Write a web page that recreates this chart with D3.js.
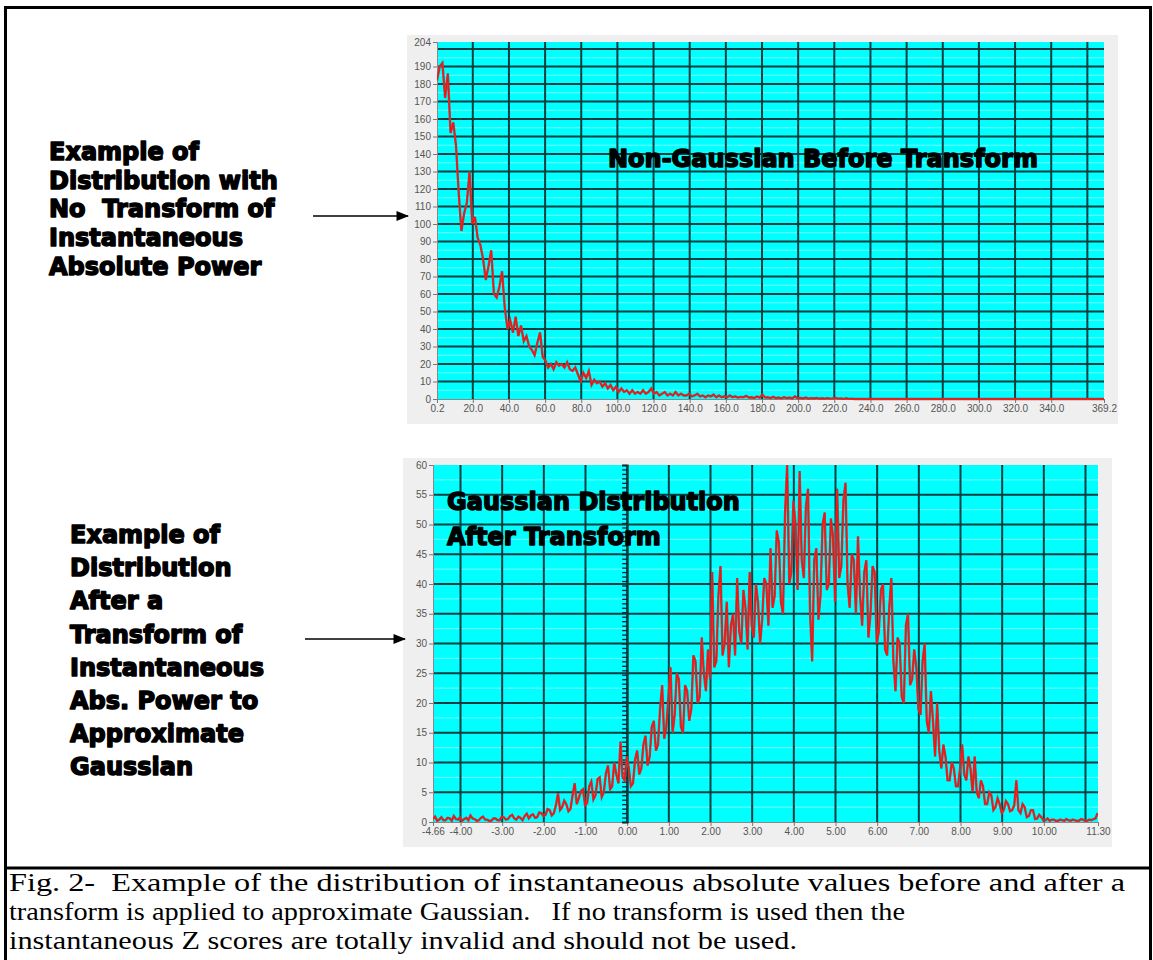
<!DOCTYPE html>
<html>
<head>
<meta charset="utf-8">
<script src="https://cdn.jsdelivr.net/npm/d3@7"></script>
<style>
  body { margin: 0; background: #fff; }
  svg { display: block; }
  text { white-space: pre; }
</style>
</head>
<body>
<div id="fig"></div>
<script>
// ---- data ----
// top histogram: counts of instantaneous absolute power, bins start at 0.2, width 1.5
var topStart = 0.2, topStep = 1.5;
var topCounts = [182, 190, 192, 172, 186, 152, 158, 145, 118, 96,
  106, 112, 130, 100, 104, 92, 88, 80, 68, 76,
  85, 60, 58, 64, 73, 52, 40, 45, 38, 47,
  36, 42, 33, 36, 30, 28, 25, 32, 38, 24,
  22, 18, 20, 17, 21, 19, 20, 18, 21, 17,
  16, 18, 14, 10, 15, 12, 16, 8, 11, 9,
  10, 7, 9, 6, 8, 5, 7, 4, 6, 4,
  5, 3, 5, 3, 4, 3, 5, 3, 4, 6,
  3, 4, 2, 3, 4, 2, 3, 2, 4, 2,
  3, 2, 2, 3, 1.5, 2, 3, 1.5, 2, 1,
  2, 1.5, 2.5, 1, 2, 1, 1.5, 1, 2, 1,
  1.5, 0.8, 1.2, 1, 1.8, 0.8, 1, 0.6, 1.4, 0.8,
  2.5, 0.8, 1, 0.5, 1.2, 0.5, 0.8, 0.4, 1, 0.5,
  0.8, 0.3, 1.5, 0.4, 0.6, 0.3, 0.8, 0.2, 0.5, 0.3,
  0.6, 0.2, 0.4, 0.2, 0.5, 0.2, 0.3, 0.6, 0.2, 0.3,
  0.1, 0.4, 0.1, 0.2, 0];
var topXTicks = [0.2, 20, 40, 60, 80, 100, 120, 140, 160, 180, 200, 220, 240, 260, 280, 300, 320, 340, 369.2];
var topXGrid = [20, 40, 60, 80, 100, 120, 140, 160, 180, 200, 220, 240, 260, 280, 300, 320, 340, 360];
var topYTicks = [0, 10, 20, 30, 40, 50, 60, 70, 80, 90, 100, 110, 120, 130, 140, 150, 160, 170, 180, 190, 204];
var topYGrid = [10, 20, 30, 40, 50, 60, 70, 80, 90, 100, 110, 120, 130, 140, 150, 160, 170, 180, 190, 200];

// bottom histogram: after transform, bins start at -4.66, width 0.05
var botStart = -4.66, botStep = 0.05;
var botCounts = [
  0.5, 0.9, 0.2, 0.4, 0.8, 0.3, 0.3, 0.7, 0.6, 0.2, 1.0, 0.5, 0.4, 0.8, 0.2, 0.5, 0.7, 0.3, 1.1, 0.6,
  0.5, 0.2, 0.3, 0.7, 0.9, 0.4, 0.4, 0.2, 0.2, 0.6, 0.6, 0.3, 0.3, 0.9, 0.8, 0.4, 0.5, 1.0, 1.2, 0.6,
  0.4, 0.9, 0.7, 0.3, 1.0, 1.4, 0.6, 1.1, 1.3, 0.7, 0.8, 1.6, 1.5, 1.0, 1.2, 2.2, 2.0, 1.1, 1.5, 2.8,
  4.8, 2.0, 2.5, 3.6, 3.0, 1.8, 2.2, 4.5, 6.5, 3.0, 4.0, 5.2, 5.5, 2.8, 3.2, 6.0, 6.8, 3.8, 4.5, 7.2,
  7.5, 4.2, 5.0, 8.2, 9.5, 5.5, 6.0, 10.0, 8.0, 6.5, 13.5, 7.5, 7.0, 11.0, 9.0, 6.0, 6.5, 10.5, 12.0, 8.0,
  9.0, 13.0, 14.5, 9.5, 11.0, 16.0, 17.0, 12.0, 13.0, 19.0, 23.0, 14.0, 16.0, 21.0, 26.0, 15.0, 18.0, 25.0, 24.0, 16.0,
  15.0, 23.0, 22.0, 17.0, 19.0, 28.0, 27.0, 20.0, 21.0, 31.0, 25.0, 22.0, 29.0, 24.0, 42.0, 26.0, 27.0, 38.0, 43.0, 28.0,
  30.0, 37.0, 26.0, 33.0, 35.0, 28.0, 41.0, 32.0, 30.0, 39.0, 36.0, 29.0, 42.0, 33.0, 31.0, 40.0, 37.0, 30.0, 34.0, 41.0,
  40.0, 33.0, 46.0, 36.0, 38.0, 49.0, 47.0, 37.0, 35.0, 52.0, 60.0, 40.0, 42.0, 54.0, 50.0, 39.0, 59.0, 44.0, 41.0, 53.0,
  56.0, 35.0, 27.0, 44.0, 46.0, 34.0, 38.0, 50.0, 52.0, 39.0, 40.0, 51.0, 48.0, 37.0, 56.0, 41.0, 43.0, 54.0, 57.0, 40.0,
  36.0, 45.0, 44.0, 35.0, 48.0, 38.0, 33.0, 42.0, 44.0, 31.0, 35.0, 43.0, 42.0, 30.0, 32.0, 39.0, 40.0, 29.0, 28.0, 36.0,
  41, 27, 22, 31, 30, 21, 20, 33, 35, 23, 24, 29, 26, 19, 18, 27, 30, 17, 15, 22,
  17, 11, 20, 12, 9, 13, 11, 7, 7, 10, 9, 6, 6, 9, 13, 8, 7, 11, 9, 5,
  11, 5, 4, 7, 6, 3, 3, 5, 4.5, 2, 2.5, 4, 3, 1.5, 2, 3.5, 3, 1.8, 2, 2.8,
  7, 2, 1.5, 3, 2.5, 0.8, 1, 2, 2, 0.5, 0.6, 1.2, 0.8, 0.3, 0.3, 0.6, 0.2, 0.4, 0.4, 0.2,
  0.2, 0.4, 0.3, 0.2, 0.5, 0.3, 0.2, 0.4, 0.3, 0.2, 0.2, 0.5, 0.4, 0.2, 0.2, 0.4, 0.3, 0.5, 0.6, 1.5];
var botXTicks = [-4.66, -4, -3, -2, -1, 0, 1, 2, 3, 4, 5, 6, 7, 8, 9, 10, 11.3];
var botXGrid = [-4, -3, -2, -1, 0, 1, 2, 3, 4, 5, 6, 7, 8, 9, 10, 11];
var botYTicks = [0, 5, 10, 15, 20, 25, 30, 35, 40, 45, 50, 55, 60];

var leftTextTop = ["Example of", "Distribution with", "No  Transform of", "Instantaneous", "Absolute Power"];
var leftTextBot = ["Example of", "Distribution", "After a", "Transform of", "Instantaneous",
  "Abs. Power to", "Approximate", "Gaussian"];
var captionLines = [
  "Fig. 2-  Example of the distribution of instantaneous absolute values before and after a",
  "transform is applied to approximate Gaussian.   If no transform is used then the",
  "instantaneous Z scores are totally invalid and should not be used."
];
var captionWidths = [1116, 896, 788];

// ---- drawing ----
var W = 1153, H = 960;
var svg = d3.select("#fig").append("svg").attr("width", W).attr("height", H);

var gridDark = "#0d3d40";
var heavy = "'DejaVu Sans', sans-serif";

// frame
svg.append("rect").attr("x", 0).attr("y", 0).attr("width", W).attr("height", H).attr("fill", "#fff");
var frame = svg.append("g").attr("stroke", "#000").attr("stroke-width", 3);
frame.append("line").attr("x1", 4).attr("x2", 1152).attr("y1", 7.5).attr("y2", 7.5);
frame.append("line").attr("x1", 5.5).attr("x2", 5.5).attr("y1", 6).attr("y2", 960);
frame.append("line").attr("x1", 1150.5).attr("x2", 1150.5).attr("y1", 6).attr("y2", 960);
frame.append("line").attr("x1", 4).attr("x2", 1152).attr("y1", 868).attr("y2", 868);

function drawPanel(opt) {
  var x = d3.scaleLinear().domain(opt.xDomain).range([opt.left, opt.right]);
  var y = d3.scaleLinear().domain(opt.yDomain).range([opt.bottom, opt.top]);
  var g = svg.append("g");

  // grey panel behind plot and axis labels
  g.append("rect")
    .attr("x", opt.left - 30).attr("y", opt.top - 7)
    .attr("width", opt.right - opt.left + 44).attr("height", opt.bottom - opt.top + 32)
    .attr("fill", "#efefef");

  // cyan plot area
  g.append("rect")
    .attr("x", opt.left).attr("y", opt.top)
    .attr("width", opt.right - opt.left).attr("height", opt.bottom - opt.top)
    .attr("fill", "#00ffff");

  // faint minor horizontal lines half way between major lines
  g.append("g").selectAll("line")
    .data(opt.yMinor)
    .join("line")
    .attr("x1", opt.left).attr("x2", opt.right)
    .attr("y1", function (d) { return y(d); }).attr("y2", function (d) { return y(d); })
    .attr("stroke", "#70ffff").attr("stroke-width", 1);

  // dark grid
  g.append("g").selectAll("line")
    .data(opt.yGrid)
    .join("line")
    .attr("x1", opt.left).attr("x2", opt.right)
    .attr("y1", function (d) { return y(d); }).attr("y2", function (d) { return y(d); })
    .attr("stroke", gridDark).attr("stroke-width", 2);
  g.append("g").selectAll("line")
    .data(opt.xGrid)
    .join("line")
    .attr("y1", opt.top).attr("y2", opt.bottom)
    .attr("x1", function (d) { return x(d); }).attr("x2", function (d) { return x(d); })
    .attr("stroke", gridDark).attr("stroke-width", 2);

  // axes
  var yAxis = g.append("g")
    .attr("transform", "translate(" + opt.left + ",0)")
    .call(d3.axisLeft(y).tickValues(opt.yTicks).tickSize(4).tickPadding(2)
      .tickFormat(function (d) { return String(d); }));
  var xAxis = g.append("g")
    .attr("transform", "translate(0," + opt.bottom + ")")
    .call(d3.axisBottom(x).tickValues(opt.xTicks).tickSize(4).tickPadding(2)
      .tickFormat(opt.xFormat));
  [yAxis, xAxis].forEach(function (a) {
    a.select(".domain").attr("stroke", "#888");
    a.selectAll(".tick line").attr("stroke", "#777");
    a.selectAll("text").attr("fill", "#555")
      .style("font-family", "'Liberation Sans', Arial, sans-serif").style("font-size", "10px");
  });

  return { g: g, x: x, y: y };
}

function drawSeries(p, start, step, counts, xEnd, clipId, left, top, w, h) {
  var pts = counts.map(function (c, i) { return [start + i * step, c]; });
  if (xEnd !== null) pts.push([xEnd, 0]);
  svg.append("clipPath").attr("id", clipId)
    .append("rect").attr("x", left).attr("y", top - 2).attr("width", w).attr("height", h + 4);
  var line = d3.line()
    .x(function (d) { return p.x(d[0]); })
    .y(function (d) { return p.y(d[1]); });
  var s = p.g.append("g").attr("clip-path", "url(#" + clipId + ")");
  s.append("path").datum(pts).attr("d", line)
    .attr("fill", "none").attr("stroke", "#8e5656").attr("stroke-width", 2.4);
  s.append("path").datum(pts).attr("d", line)
    .attr("fill", "none").attr("stroke", "#ff1010").attr("stroke-width", 1.3);
}

// top chart
var topP = drawPanel({
  xDomain: [0.2, 369.2], yDomain: [0, 204],
  left: 437, right: 1104, top: 42, bottom: 399,
  xTicks: topXTicks, xGrid: topXGrid, yTicks: topYTicks, yGrid: topYGrid,
  yMinor: topYGrid.map(function (d) { return d - 5; }),
  xFormat: function (d) { return d.toFixed(1); }
});
drawSeries(topP, topStart, topStep, topCounts, 369.2, "clipTop", 437, 42, 667, 357);

// bottom chart
var botP = drawPanel({
  xDomain: [-4.66, 11.3], yDomain: [0, 60],
  left: 433, right: 1098, top: 465, bottom: 822,
  xTicks: botXTicks, xGrid: botXGrid, yTicks: botYTicks, yGrid: botYTicks.slice(1, -1),
  yMinor: botYTicks.slice(1).map(function (d) { return d - 2.5; }),
  xFormat: function (d) { return d.toFixed(2); }
});
// zero axis with small ticks
var zeroAxis = botP.g.append("g").attr("transform", "translate(" + botP.x(0) + ",0)");
zeroAxis.call(d3.axisRight(botP.y).tickValues(d3.range(0, 60.01, 0.75)).tickSize(5).tickFormat(""));
zeroAxis.call(d3.axisLeft(botP.y).tickValues(d3.range(0, 60.01, 0.75)).tickSize(5).tickFormat(""));
zeroAxis.selectAll(".domain").attr("stroke", gridDark).attr("stroke-width", 2);
zeroAxis.selectAll(".tick line").attr("stroke", "#123").attr("stroke-width", 1.3);
drawSeries(botP, botStart, botStep, botCounts, null, "clipBot", 433, 465, 665, 357);

// heavy display text
function heavyText(x, y, str, size) {
  svg.append("text").attr("x", x).attr("y", y).text(str)
    .attr("font-family", heavy).attr("font-weight", "bold").attr("font-size", size)
    .attr("fill", "#000").attr("stroke", "#000").attr("stroke-width", 1.5)
    .attr("stroke-linejoin", "round");
}
heavyText(608, 167, "Non-Gaussian Before Transform", 24);
heavyText(447, 510, "Gaussian Distribution", 24);
heavyText(447, 545, "After Transform", 24);

// side notes
leftTextTop.forEach(function (t, i) { heavyText(49, 160 + i * 28.7, t, 24); });
leftTextBot.forEach(function (t, i) { heavyText(70, 543 + i * 33.2, t, 24); });

// arrows
svg.append("defs").append("marker")
  .attr("id", "ah").attr("viewBox", "0 0 10 10").attr("refX", 9).attr("refY", 5)
  .attr("markerWidth", 8).attr("markerHeight", 8).attr("orient", "auto")
  .append("path").attr("d", "M0,1L10,5L0,9z").attr("fill", "#000");
[[313, 408, 216], [305, 405, 639]].forEach(function (a) {
  svg.append("line").attr("x1", a[0]).attr("x2", a[1]).attr("y1", a[2]).attr("y2", a[2])
    .attr("stroke", "#000").attr("stroke-width", 1.6).attr("marker-end", "url(#ah)");
});

// caption
captionLines.forEach(function (t, i) {
  svg.append("text").attr("x", 9).attr("y", 891 + i * 29).text(t)
    .attr("font-family", "'Liberation Serif', 'Times New Roman', serif")
    .attr("font-size", 25).attr("fill", "#000")
    .attr("textLength", captionWidths[i]).attr("lengthAdjust", "spacingAndGlyphs");
});
</script>
</body>
</html>
